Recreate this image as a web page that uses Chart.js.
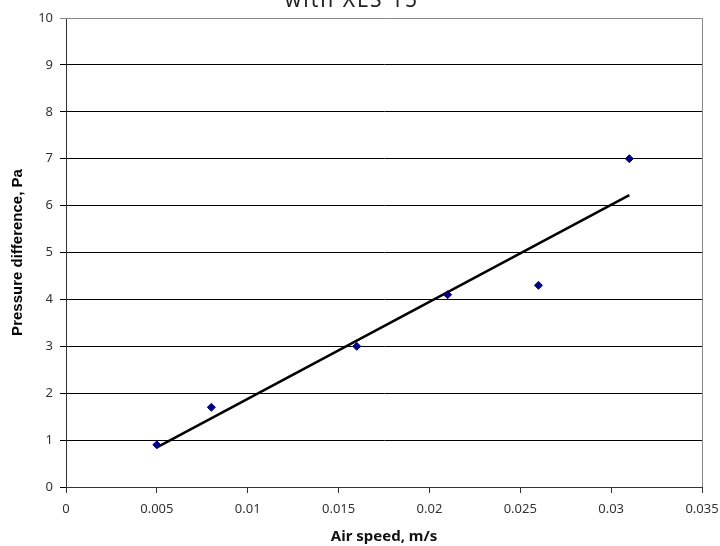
<!DOCTYPE html>
<html>
<head>
<meta charset="utf-8">
<script src="https://cdn.jsdelivr.net/npm/chart.js@4.4.0/dist/chart.umd.min.js"></script>
<style>
  html, body { margin: 0; padding: 0; background: #fff; }
</style>
</head>
<body>
<canvas id="myChart" width="720" height="546"></canvas>
<script>
// measured air speed (m/s) and pressure difference (Pa)
var airSpeed = [0.005, 0.008, 0.016, 0.021, 0.026, 0.031];
var pressure = [0.9, 1.7, 3.0, 4.1, 4.3, 7.0];
var xTickLabels = ['0', '0.005', '0.01', '0.015', '0.02', '0.025', '0.03', '0.035'];
var yTickLabels = ['0', '1', '2', '3', '4', '5', '6', '7', '8', '9', '10'];
var titleText = 'with XLS 15';

// linear trendline (least squares), drawn from first to last x
function trend(xs, ys) {
  var n = xs.length, mx = 0, my = 0, sxy = 0, sxx = 0;
  for (var i = 0; i < n; i++) { mx += xs[i] / n; my += ys[i] / n; }
  for (var j = 0; j < n; j++) {
    sxy += (xs[j] - mx) * (ys[j] - my);
    sxx += (xs[j] - mx) * (xs[j] - mx);
  }
  var b = sxy / sxx, a = my - b * mx;
  var x0 = Math.min.apply(null, xs), x1 = Math.max.apply(null, xs);
  return [{ x: x0, y: a + b * x0 }, { x: x1, y: a + b * x1 }];
}

var points = airSpeed.map(function (v, i) { return { x: v, y: pressure[i] }; });

var frame = {
  id: 'frame',
  afterDraw: function (chart) {
    var c = chart.ctx, a = chart.chartArea;
    c.save();
    c.strokeStyle = '#888';
    c.lineWidth = 1;
    c.beginPath();
    c.moveTo(a.left, a.top + 0.5);
    c.lineTo(a.right + 0.5, a.top + 0.5);
    c.lineTo(a.right + 0.5, a.bottom);
    c.stroke();
    // cut-off title at top
    c.fillStyle = '#222';
    c.font = '21px "Noto Sans", sans-serif';
    c.letterSpacing = '2px';
    c.textAlign = 'center';
    c.textBaseline = 'alphabetic';
    c.fillText(titleText, 352, 7);
    c.restore();
  }
};

var ctx = document.getElementById('myChart');
var chartScatter = new Chart(ctx, {
  type: 'scatter',
  data: {
    datasets: [{
      label: 'Measured',
      data: points,
      backgroundColor: '#000080',
      borderColor: '#000080',
      pointStyle: 'rectRot',
      pointRadius: 4,
      order: 1
    }, {
      label: 'Linear',
      data: trend(airSpeed, pressure),
      showLine: true,
      borderColor: '#000',
      borderWidth: 2.5,
      pointRadius: 0,
      order: 2
    }]
  },
  plugins: [frame],
  options: {
    responsive: false,
    animation: false,
    layout: { padding: { top: 18, right: 18, left: 0, bottom: 0 } },
    plugins: {
      legend: { display: false },
      tooltip: { enabled: false }
    },
    scales: {
      x: {
        type: 'linear',
        min: 0,
        max: 0.035,
        afterFit: function (s) { s.height = 59; s.paddingRight = 0; s.paddingLeft = 0; },
        afterBuildTicks: function (s) {
          s.ticks = xTickLabels.map(function (t) { return { value: parseFloat(t) }; });
        },
        ticks: {
          callback: function (v, i) { return xTickLabels[i]; },
          color: '#333',
          font: { family: '"Noto Sans", sans-serif', size: 13 },
          maxRotation: 0,
          padding: 8
        },
        grid: { drawOnChartArea: false, drawTicks: true, tickLength: 6, color: '#333' },
        border: { color: '#333', width: 1 },
        title: {
          display: true,
          text: 'Air speed, m/s',
          color: '#111',
          font: { family: '"Noto Sans", sans-serif', size: 15, weight: 'bold' },
          padding: { top: 8, bottom: 0 }
        }
      },
      y: {
        type: 'linear',
        min: 0,
        max: 10,
        afterFit: function (s) { s.width = 66; },
        ticks: {
          stepSize: 1,
          callback: function (v, i) { return yTickLabels[i]; },
          color: '#333',
          font: { family: '"Noto Sans", sans-serif', size: 13 },
          padding: 7
        },
        grid: {
          tickLength: 6,
          color: function (c) { return c.index === 10 ? '#888' : '#000'; }
        },
        border: { color: '#333', width: 1 },
        title: {
          display: true,
          text: 'Pressure difference, Pa',
          color: '#000',
          font: { family: '"Liberation Sans", Arial, sans-serif', size: 15, weight: 'bold' },
          padding: { top: 9, bottom: 0 }
        }
      }
    }
  }
});
</script>
</body>
</html>
